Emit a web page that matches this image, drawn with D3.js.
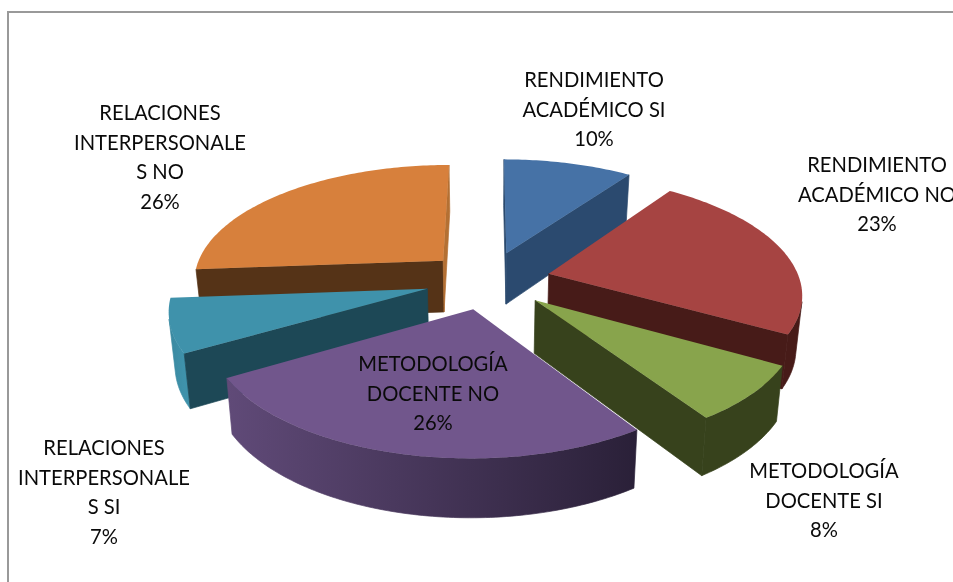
<!DOCTYPE html>
<html><head><meta charset="utf-8">
<style>html,body{margin:0;padding:0;background:#fff;overflow:hidden}svg{display:block;filter:blur(0.45px)}text{font-family:Lato,"Open Sans",sans-serif;fill:#0a0a0a}</style>
<script src="https://cdn.jsdelivr.net/npm/d3@7/dist/d3.min.js"></script>
</head><body>
<script>
const categories=["RENDIMIENTO ACADÉMICO SI","RENDIMIENTO ACADÉMICO NO","METODOLOGÍA DOCENTE SI","METODOLOGÍA DOCENTE NO","RELACIONES INTERPERSONALES SI","RELACIONES INTERPERSONALES NO"];
const values=[9.8,23.4,7.5,25.9,7.2,26.2];
const labelLines=[["RENDIMIENTO","ACADÉMICO SI"],["RENDIMIENTO","ACADÉMICO NO"],["METODOLOGÍA","DOCENTE SI"],["METODOLOGÍA","DOCENTE NO"],["RELACIONES","INTERPERSONALE","S SI"],["RELACIONES","INTERPERSONALE","S NO"]];
const topColors=["#4672a6","#a64442","#88a44c","#71568c","#3f92ab","#d7803c"];
const startFaceColors=["#2b4a6f","#471b18","#37421c","#2a2038","#1d4856","#553317"];
const endFaceColors=["#2b4a6f","#471b18","#37421c","#604a78","#1d4856","#b47033"];
const wallStartColors=["#2b4a6f","#471b18","#37421c","#2a2038","#3f92ab","#8a5424"];
const wallEndColors=["#2b4a6f","#471b18","#37421c","#604a78","#3a889f","#8a5424"];

const W=953,H=582;
const cfg={cx:488,cy:280,halfW:251,halfH:116,persp:0.154,explode:0.25,depth:52,depthPersp:0.1,baseShrink:0.98,fontSize:20.2,lineGap:29.5};
const labelAnchors=[[594,80],[877,165],[824,471],[433,364],[104,448],[160,113]];

const svg=d3.select("body").append("svg").attr("width",W).attr("height",H);
const defs=svg.append("defs");
svg.append("path").attr("d",d3.line()([[8,H],[8,12],[W,12]])).attr("fill","none").attr("stroke","#999").attr("stroke-width",2);

const xS=d3.scaleLinear().domain([-1,1]).range([cfg.cx-cfg.halfW,cfg.cx+cfg.halfW]);
const yS=d3.scaleLinear().domain([-1,1]).range([cfg.cy-cfg.halfH,cfg.cy+cfg.halfH]);
const depthS=d3.scaleLinear().domain([0,1]).range([0,cfg.depth]);
function proj(u,v){const d=1-cfg.persp*v;return [xS(u/d),yS(v/d)];}
function low(u,v){const p=proj(u,v);return [cfg.cx+(p[0]-cfg.cx)*cfg.baseShrink,p[1]+depthS(1/(1-cfg.depthPersp*v))];}
const line=d3.line();
const arcs=d3.pie().sort(null).startAngle(0).endAngle(2*Math.PI)(values);
// d3.polygonArea is positive for a quad that runs clockwise on screen (y down),
// which is how a face turned to the viewer runs here.
const facing=q=>d3.polygonArea(q)>0;
const slices=arcs.map((a,i)=>{
  const mid=(a.startAngle+a.endAngle)/2;
  const ou=cfg.explode*Math.sin(mid),ov=-cfg.explode*Math.cos(mid);
  const pt=t=>[ou+Math.sin(t),ov-Math.cos(t)];
  return {a,i,ou,ov,pt};
}).sort((p,q)=>p.ov-q.ov);

slices.forEach(s=>{
  const {a,i,ou,ov,pt}=s;
  const g=svg.append("g");
  const n=Math.max(8,Math.ceil((a.endAngle-a.startAngle)*180/Math.PI));
  const ts=d3.range(n+1).map(k=>a.startAngle+(a.endAngle-a.startAngle)*k/n);
  const seen=d3.pairs(ts).filter(([t0,t1])=>facing([proj(...pt(t0)),proj(...pt(t1)),low(...pt(t1)),low(...pt(t0))]));
  if(seen.length){
    const vis=[seen[0][0],...seen.map(p=>p[1])];
    const poly=[...vis.map(t=>proj(...pt(t))),...vis.slice().reverse().map(t=>low(...pt(t)))];
    const id="wall"+i;
    const grad=defs.append("linearGradient").attr("id",id).attr("gradientUnits","userSpaceOnUse")
      .attr("x1",poly[0][0]).attr("x2",poly[vis.length-1][0]).attr("y1",0).attr("y2",0);
    grad.append("stop").attr("offset",0).attr("stop-color",wallStartColors[i]);
    grad.append("stop").attr("offset",1).attr("stop-color",wallEndColors[i]);
    g.append("path").attr("d",line(poly)+"Z").attr("fill",`url(#${id})`).attr("stroke",`url(#${id})`).attr("stroke-width",0.7);
  }
  const apex=[ou,ov];
  const S=pt(a.startAngle),E=pt(a.endAngle);
  const qs=[proj(...apex),proj(...S),low(...S),low(...apex)];
  const qe=[proj(...E),proj(...apex),low(...apex),low(...E)];
  if(facing(qs)) g.append("path").attr("d",line(qs)+"Z").attr("fill",startFaceColors[i]).attr("stroke",startFaceColors[i]).attr("stroke-width",0.7);
  if(facing(qe)) g.append("path").attr("d",line(qe)+"Z").attr("fill",endFaceColors[i]).attr("stroke",endFaceColors[i]).attr("stroke-width",0.7);
  const top=[proj(...apex),...ts.map(t=>proj(...pt(t)))];
  g.append("path").attr("d",line(top)+"Z").attr("fill",topColors[i]);
});

labelLines.forEach((lines,i)=>{
  const all=[...lines,Math.round(arcs[i].value)+"%"];
  const [x,y]=labelAnchors[i];
  const t=svg.append("text").attr("text-anchor","middle").attr("font-size",cfg.fontSize);
  all.forEach((l,j)=>t.append("tspan").attr("x",x).attr("y",y+j*cfg.lineGap).attr("dy","0.35em").text(l));
});
</script>
</body></html>
